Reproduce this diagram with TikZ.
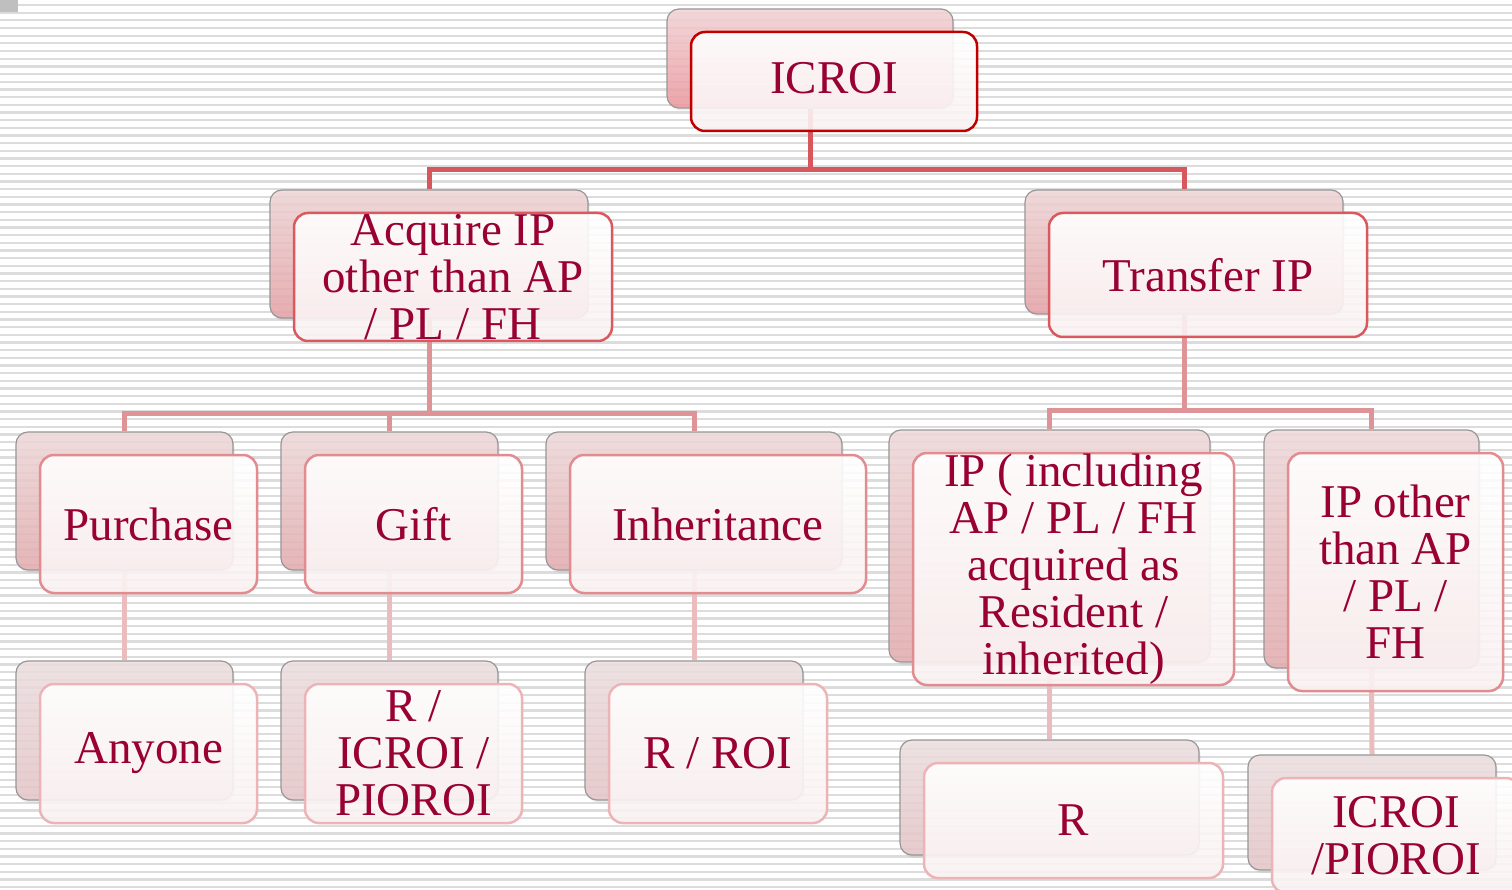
\documentclass[tikz,border=0pt]{standalone}
\usepackage{fontspec}
\setmainfont{Liberation Serif}
\usetikzlibrary{backgrounds,shadows}

\definecolor{textred}{RGB}{153,0,51}
\definecolor{stripe}{RGB}{220,220,220}
\definecolor{cardgray}{RGB}{150,150,150}
\definecolor{frontbot}{RGB}{250,241,241}
% back card fills, one pair per level
\definecolor{bk0top}{RGB}{244,212,214}
\definecolor{bk0bot}{RGB}{236,152,158}
\definecolor{bk1top}{RGB}{240,214,215}
\definecolor{bk1bot}{RGB}{230,162,166}
\definecolor{bk2top}{RGB}{240,218,219}
\definecolor{bk2bot}{RGB}{228,172,175}
\definecolor{bk3top}{RGB}{238,224,225}
\definecolor{bk3bot}{RGB}{230,198,200}
% front borders and links
\definecolor{fr0}{RGB}{192,0,0}
\definecolor{fr1}{RGB}{217,89,94}
\definecolor{fr2}{RGB}{226,140,144}
\definecolor{fr3}{RGB}{236,180,182}
\definecolor{ln0}{RGB}{214,87,92}
\definecolor{ln1}{RGB}{222,148,151}
\definecolor{ln2}{RGB}{235,188,190}

\begin{document}
\begin{tikzpicture}[x=1pt, y=-1pt,
    txt/.style={text=textred, align=center, inner sep=0pt, fill opacity=1, text opacity=1,
      font=\fontsize{47}{47}\selectfont},
    card size/.style 2 args={minimum width=#1, minimum height=#2},
    back/.style={draw=cardgray, line width=1.2pt, rounded corners=12pt, inner sep=0pt,
      fill opacity=0.85, drop shadow={opacity=0.15, shadow xshift=1.5pt, shadow yshift=-2.5pt}},
    back0/.style={back, top color=bk0top, bottom color=bk0bot},
    back1/.style={back, top color=bk1top, bottom color=bk1bot},
    back2/.style={back, top color=bk2top, bottom color=bk2bot},
    back3/.style={back, top color=bk3top, bottom color=bk3bot},
    front/.style={line width=2.5pt, rounded corners=14pt, inner sep=0pt,
      top color=white, bottom color=frontbot, fill opacity=0.9},
    front0/.style={front, draw=fr0},
    front1/.style={front, draw=fr1},
    front2/.style={front, draw=fr2},
    front3/.style={front, draw=fr3},
    link/.style={line width=5pt},
  ]
  \useasboundingbox (0,0) rectangle (1512,890);

  \begin{scope}[on background layer]
    \fill[white] (0,0) rectangle (1512,890);
    \foreach \i in {0,...,115}
      \draw[stripe, line width=2.3pt] (0,{5+7.67*\i}) -- (1512,{5+7.67*\i});
    \fill[black!25] (0,0) rectangle (18,12);
  \end{scope}

  % top
  \node[back0, card size={286pt}{99pt}] (icroi-b) at (810,58.5) {};
  \node[front0, card size={286pt}{99pt}, label={[txt, yshift=3pt]center:ICROI}] (icroi) at ([shift={(24,23)}]icroi-b) {};

  % second row
  \node[back1, card size={318pt}{128pt}] (acq-b) at (429,254) {};
  \node[front1, card size={318pt}{128pt}, label={[txt]center:Acquire IP\\other than AP\\/ PL / FH}] (acq) at ([shift={(24,23)}]acq-b) {};

  \node[back1, card size={318pt}{124pt}] (trans-b) at (1184,252) {};
  \node[front1, card size={318pt}{124pt}, label={[txt]center:Transfer IP}] (trans) at ([shift={(24,23)}]trans-b) {};

  % third row
  \node[back2, card size={217pt}{138pt}] (purch-b) at (124.5,501) {};
  \node[front2, card size={217pt}{138pt}, label={[txt]center:Purchase}] (purch) at ([shift={(24,23)}]purch-b) {};

  \node[back2, card size={217pt}{138pt}] (gift-b) at (389.5,501) {};
  \node[front2, card size={217pt}{138pt}, label={[txt]center:Gift}] (gift) at ([shift={(24,23)}]gift-b) {};

  \node[back2, card size={296pt}{138pt}] (inher-b) at (694,501) {};
  \node[front2, card size={296pt}{138pt}, label={[txt]center:Inheritance}] (inher) at ([shift={(24,23)}]inher-b) {};

  \node[back2, card size={321pt}{232pt}] (ipinc-b) at (1049.5,546) {};
  \node[front2, card size={321pt}{232pt}, label={[txt]center:IP ( including\\AP / PL / FH\\acquired as\\Resident /\\inherited)}] (ipinc) at ([shift={(24,23)}]ipinc-b) {};

  \node[back2, card size={215pt}{238pt}] (ipoth-b) at (1371.5,549) {};
  \node[front2, card size={215pt}{238pt}, label={[txt]center:IP other\\than AP\\/ PL /\\FH}] (ipoth) at ([shift={(24,23)}]ipoth-b) {};

  % bottom row
  \node[back3, card size={217pt}{139pt}] (anyone-b) at (124.5,730.5) {};
  \node[front3, card size={217pt}{139pt}, label={[txt]center:Anyone}] (anyone) at ([shift={(24,23)}]anyone-b) {};

  \node[back3, card size={217pt}{139pt}] (rico-b) at (389.5,730.5) {};
  \node[front3, card size={217pt}{139pt}, label={[txt]center:R /\\ICROI /\\PIOROI}] (rico) at ([shift={(24,23)}]rico-b) {};

  \node[back3, card size={218pt}{139pt}] (rroi-b) at (694,730.5) {};
  \node[front3, card size={218pt}{139pt}, label={[txt]center:R / ROI}] (rroi) at ([shift={(24,23)}]rroi-b) {};

  \node[back3, card size={299pt}{115pt}] (r-b) at (1049.5,797.5) {};
  \node[front3, card size={299pt}{115pt}, label={[txt]center:R}] (r) at ([shift={(24,23)}]r-b) {};

  \node[back3, card size={248pt}{115pt}] (icpi-b) at (1372,812.5) {};
  \node[front3, card size={248pt}{115pt}, label={[txt]center:ICROI\\/PIOROI}] (icpi) at ([shift={(24,23)}]icpi-b) {};

  % links
  \coordinate (bar0) at (0,170);
  \coordinate (bar1) at (0,413);
  \coordinate (bar2) at (0,410);
  \begin{scope}[on background layer]
    \draw[link, ln0] (icroi-b.south) -- (icroi-b.south |- bar0) -| (acq-b.north);
    \draw[link, ln0] (icroi-b.south) -- (icroi-b.south |- bar0) -| (trans-b.north);

    \draw[link, ln1] (acq-b.south) -- (acq-b.south |- bar1) -| (purch-b.north);
    \draw[link, ln1] (acq-b.south) -- (acq-b.south |- bar1) -| (gift-b.north);
    \draw[link, ln1] (acq-b.south) -- (acq-b.south |- bar1) -| (inher-b.north);
    \draw[link, ln1] (trans-b.south) -- (trans-b.south |- bar2) -| (ipinc-b.north);
    \draw[link, ln1] (trans-b.south) -- (trans-b.south |- bar2) -| (ipoth-b.north);

    \draw[link, ln2] (purch-b.south) -- (anyone-b.north);
    \draw[link, ln2] (gift-b.south) -- (rico-b.north);
    \draw[link, ln2] (inher-b.south) -- (rroi-b.north);
    \draw[link, ln2] (ipinc-b.south) -- (r-b.north);
    \draw[link, ln2] (ipoth-b.south) -- (icpi-b.north);
  \end{scope}
\end{tikzpicture}
\end{document}
